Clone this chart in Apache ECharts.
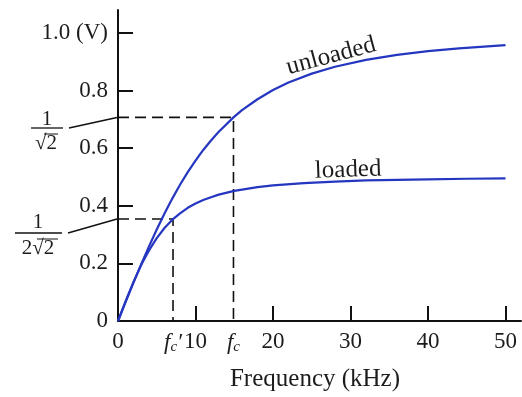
<!DOCTYPE html>
<html>
<head>
<meta charset="utf-8">
<script src="https://cdn.jsdelivr.net/npm/echarts@6/dist/echarts.min.js"></script>
<style>html,body{margin:0;padding:0;background:#fff}#c{width:522px;height:397px}</style>
</head>
<body>
<div id="c"></div>
<script>
// ---- data ----
const freqUnloaded = [0,1,2,3,4,5,6,7,8,9,10,11,12,13,14.9,16,18,20,22,25,28,32,36,40,44,50];
const voltUnloaded = [0,0.067,0.133,0.197,0.259,0.318,0.373,0.425,0.473,0.517,0.557,0.594,0.627,0.657,0.707,0.732,0.770,0.802,0.828,0.859,0.883,0.907,0.924,0.937,0.947,0.958];
const freqLoaded = [0,1,2,3,4,5,6,7.1,8,9,10,11,12,13,15,18,20,24,28,32,36,40,45,50];
const voltLoaded = [0,0.070,0.136,0.195,0.245,0.288,0.323,0.354,0.374,0.393,0.408,0.420,0.430,0.439,0.452,0.465,0.471,0.479,0.484,0.488,0.490,0.492,0.494,0.495];
const fcUnloaded = 14.9, vcUnloaded = 0.707;
const fcLoaded = 7.1, vcLoaded = 0.354;
const xTicks = [0,10,20,30,40,50];
const yTicks = [0,0.2,0.4,0.6,0.8,1.0];
const seriesNames = ['unloaded','loaded'];

const SERIF = 'Liberation Serif';
const TXT = '#1c1c1c';
const BLUE = '#2536c0';

const chart = echarts.init(document.getElementById('c'), null, {renderer:'canvas'});
const zip = (xs, ys) => xs.map((x,i) => [x, ys[i]]);

const option = {
  animation: false,
  backgroundColor: '#fff',
  grid: {left: 118, right: 1, top: 10, bottom: 73, containLabel: false},
  xAxis: {
    type: 'value', min: 0, max: 52,
    name: 'Frequency (kHz)', nameLocation: 'middle', nameGap: 46,
    nameTextStyle: {fontFamily: SERIF, fontSize: 25, color: TXT, padding: [0, 9, 0, 0]},
    axisLine: {lineStyle: {color: '#111', width: 2}},
    axisTick: {inside: true, length: 15, customValues: xTicks, lineStyle: {color: '#111', width: 2}},
    axisLabel: {
      customValues: [0, fcLoaded, 10, fcUnloaded, 20, 30, 40, 50],
      fontFamily: SERIF, fontSize: 23, color: TXT, margin: 9,
      formatter: function (v) {
        if (v === fcLoaded) return '{it|f}{sub|c}{it|\u2032}';
        if (v === fcUnloaded) return '{it|f}{sub|c}';
        return String(v);
      },
      rich: {
        it: {fontFamily: SERIF, fontStyle: 'italic', fontSize: 23, color: TXT},
        sub: {fontFamily: SERIF, fontStyle: 'italic', fontSize: 15, color: TXT, verticalAlign: 'bottom', padding: [10, 0, 0, 0]}
      }
    },
    splitLine: {show: false}
  },
  yAxis: {
    type: 'value', min: 0, max: 1.08,
    axisLine: {show: true, lineStyle: {color: '#111', width: 2}},
    axisTick: {show: true, inside: true, length: 15, customValues: yTicks, lineStyle: {color: '#111', width: 2}},
    axisLabel: {
      customValues: yTicks,
      fontFamily: SERIF, fontSize: 23, color: TXT, margin: 10,
      formatter: function (v) {
        if (v === 1) return '1.0 (V)';
        if (v === 0) return '0';
        return v.toFixed(1);
      }
    },
    splitLine: {show: false}
  },
  series: [
    {
      name: 'fcUnloadedGuide', type: 'line', symbol: 'none', silent: true, z: 1,
      data: [[0, vcUnloaded], [fcUnloaded, vcUnloaded], [fcUnloaded, 0]],
      lineStyle: {color: '#111', width: 1.6, type: [11, 6]}
    },
    {
      name: 'fcLoadedGuide', type: 'line', symbol: 'none', silent: true, z: 1,
      data: [[0, vcLoaded], [fcLoaded, vcLoaded], [fcLoaded, 0]],
      lineStyle: {color: '#111', width: 1.6, type: [11, 6]}
    },
    {
      name: seriesNames[0], type: 'line', symbol: 'none', smooth: false, z: 3,
      data: zip(freqUnloaded, voltUnloaded),
      lineStyle: {color: BLUE, width: 2.2, join: 'round'}
    },
    {
      name: seriesNames[1], type: 'line', symbol: 'none', smooth: false, z: 3,
      data: zip(freqLoaded, voltLoaded),
      lineStyle: {color: BLUE, width: 2.2, join: 'round'}
    }
  ]
};
chart.setOption(option);

// ---- annotations ----
const pUn = chart.convertToPixel({gridIndex: 0}, [27.5, 0.92]);
const pLo = chart.convertToPixel({gridIndex: 0}, [29.7, 0.524]);
const a1 = chart.convertToPixel({gridIndex: 0}, [0, vcUnloaded]);
const a2 = chart.convertToPixel({gridIndex: 0}, [0, vcLoaded]);

function txt(text, x, y, size, extra) {
  return Object.assign({
    type: 'text', x: x, y: y, z: 10,
    style: {text: text, fontFamily: SERIF, fontSize: size, fill: TXT, align: 'center', verticalAlign: 'middle'}
  }, extra || {});
}
function ln(x1, y1, x2, y2, w) {
  return {type: 'line', z: 10, shape: {x1: x1, y1: y1, x2: x2, y2: y2}, style: {stroke: '#111', lineWidth: w || 1.4}};
}

chart.setOption({
  graphic: [
    txt(seriesNames[0], pUn[0], pUn[1], 25, {rotation: 15 * Math.PI / 180}),
    txt(seriesNames[1], pLo[0], pLo[1], 25, {rotation: 2 * Math.PI / 180}),
    // 1/sqrt(2)
    txt('1', 47, 119, 21),
    ln(31, 128, 63, 128, 1.3),
    txt('\u221A2', 46, 143, 21),
    ln(44, 134, 58, 134, 1),
    ln(69, 128, a1[0] - 1, a1[1], 1.5),
    // 1/(2 sqrt(2))
    txt('1', 38, 222, 21),
    ln(15, 233, 62, 233, 1.3),
    txt('2\u221A2', 38, 248, 21),
    ln(37, 239, 58, 239, 1),
    ln(68, 233, a2[0] - 1, a2[1], 1.5)
  ]
});
</script>
</body>
</html>
